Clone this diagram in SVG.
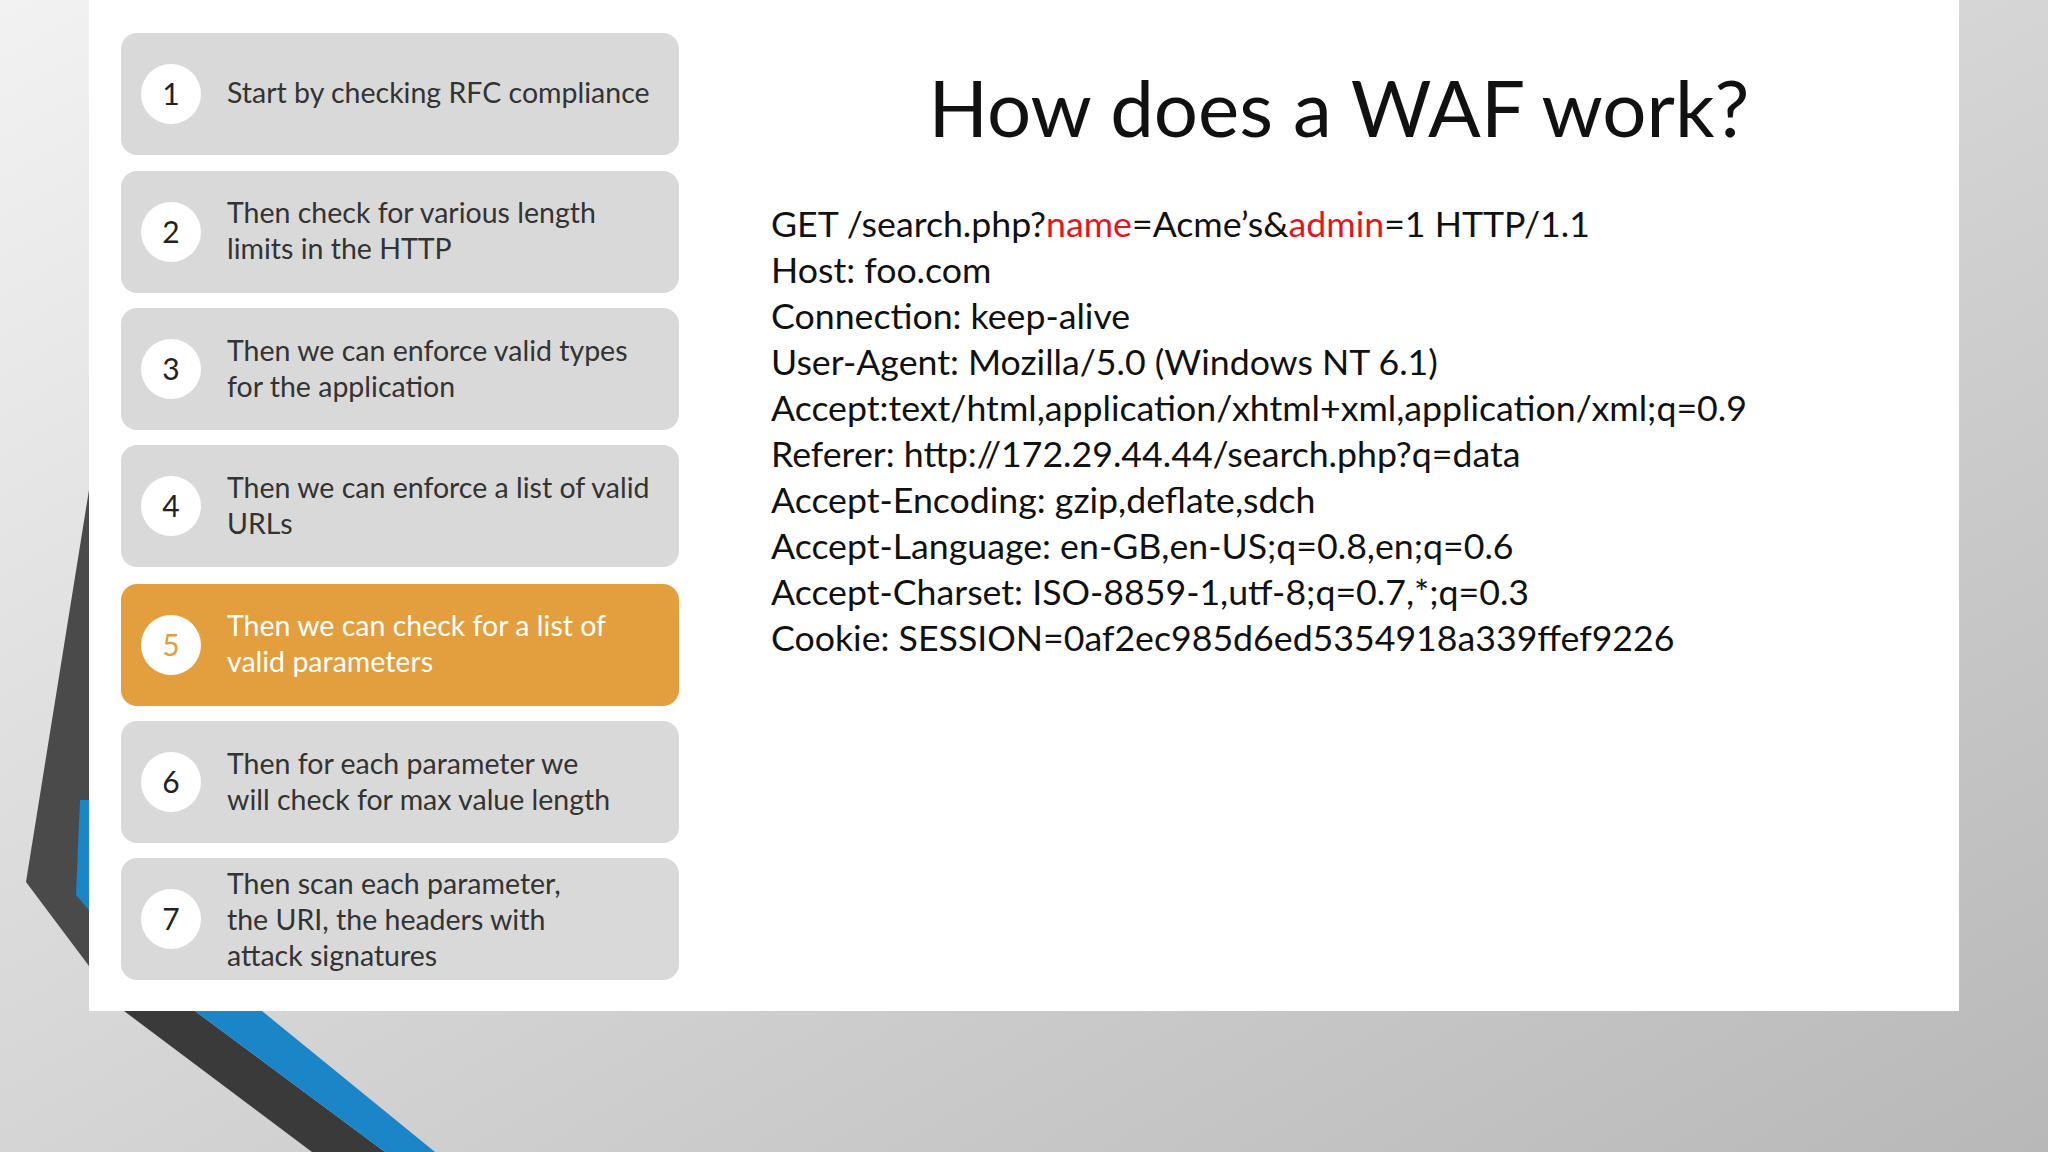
<svg xmlns="http://www.w3.org/2000/svg" width="2048" height="1152" viewBox="0 0 2048 1152">
<defs>
<linearGradient id="bg" x1="0" y1="0" x2="1" y2="1">
<stop offset="0" stop-color="#f2f2f2"/><stop offset="1" stop-color="#b8b8b8"/>
</linearGradient>
<style>
.box{fill:#d9d9d9}
.box5{fill:#e39e3e}
.circ{fill:#ffffff}
.num{font-family:Lato,"Open Sans",sans-serif;font-size:30px;fill:#222;text-anchor:middle}
.lbl{font-family:Lato,"Open Sans",sans-serif;font-size:28.5px;fill:#333}
.req{font-family:Lato,"Open Sans",sans-serif;font-size:35.7px;fill:#111}
.red{fill:#e8141c}
</style>
</defs>
<rect width="2048" height="1152" fill="url(#bg)"/>
<polygon points="89,490 26,882 89,966" fill="#4a4a4a"/>
<polygon points="80,800 89,800 89,910 76,895" fill="#1a86c8"/>
<polygon points="124,1011 195,1011 385,1152 312,1152" fill="#3a3a3a"/>
<polygon points="195,1011 262,1011 435,1152 385,1152" fill="#1a86c8"/>
<rect x="89" y="0" width="1870" height="1011" fill="#ffffff"/>
<text x="1339" y="137" font-family="Lato,'Open Sans',sans-serif" font-size="78" fill="#111" text-anchor="middle">How does a WAF work?</text>
<g id="n1"><rect class="box" x="121" y="33" width="558" height="122" rx="16"/><circle class="circ" cx="171" cy="94" r="30"/><text class="num" x="171" y="105">1</text><text class="lbl" x="227" y="103">Start by checking RFC compliance</text></g>
<g id="n2"><rect class="box" x="121" y="171" width="558" height="122" rx="16"/><circle class="circ" cx="171" cy="232" r="30"/><text class="num" x="171" y="243">2</text><text class="lbl" x="227" y="223">Then check for various length</text><text class="lbl" x="227" y="259">limits in the HTTP</text></g>
<g id="n3"><rect class="box" x="121" y="308" width="558" height="122" rx="16"/><circle class="circ" cx="171" cy="369" r="30"/><text class="num" x="171" y="380">3</text><text class="lbl" x="227" y="361">Then we can enforce valid types</text><text class="lbl" x="227" y="397">for the application</text></g>
<g id="n4"><rect class="box" x="121" y="445" width="558" height="122" rx="16"/><circle class="circ" cx="171" cy="506" r="30"/><text class="num" x="171" y="517">4</text><text class="lbl" x="227" y="498">Then we can enforce a list of valid</text><text class="lbl" x="227" y="534">URLs</text></g>
<g id="n5"><rect class="box5" x="121" y="584" width="558" height="122" rx="16"/><circle class="circ" cx="171" cy="645" r="30"/><text class="num" x="171" y="656" style="fill:#e39e3e">5</text><text class="lbl" x="227" y="636" style="fill:#fff">Then we can check for a list of</text><text class="lbl" x="227" y="672" style="fill:#fff">valid parameters</text></g>
<g id="n6"><rect class="box" x="121" y="721" width="558" height="122" rx="16"/><circle class="circ" cx="171" cy="782" r="30"/><text class="num" x="171" y="793">6</text><text class="lbl" x="227" y="774">Then for each parameter we</text><text class="lbl" x="227" y="810">will check for max value length</text></g>
<g id="n7"><rect class="box" x="121" y="858" width="558" height="122" rx="16"/><circle class="circ" cx="171" cy="919" r="30"/><text class="num" x="171" y="930">7</text><text class="lbl" x="227" y="894">Then scan each parameter,</text><text class="lbl" x="227" y="930">the URI, the headers with</text><text class="lbl" x="227" y="966">attack signatures</text></g>
<g id="request">
<text class="req" x="771" y="237">GET /search.php?<tspan class="red">name</tspan>=Acme’s&amp;<tspan class="red">admin</tspan>=1 HTTP/1.1</text>
<text class="req" x="771" y="283">Host: foo.com</text>
<text class="req" x="771" y="329">Connection: keep-alive</text>
<text class="req" x="771" y="375">User-Agent: Mozilla/5.0 (Windows NT 6.1)</text>
<text class="req" x="771" y="421">Accept:text/html,application/xhtml+xml,application/xml;q=0.9</text>
<text class="req" x="771" y="467">Referer: http://172.29.44.44/search.php?q=data</text>
<text class="req" x="771" y="513">Accept-Encoding: gzip,deflate,sdch</text>
<text class="req" x="771" y="559">Accept-Language: en-GB,en-US;q=0.8,en;q=0.6</text>
<text class="req" x="771" y="605">Accept-Charset: ISO-8859-1,utf-8;q=0.7,*;q=0.3</text>
<text class="req" x="771" y="651">Cookie: SESSION=0af2ec985d6ed5354918a339ffef9226</text>
</g>
<g id="connectors"/>
</svg>
